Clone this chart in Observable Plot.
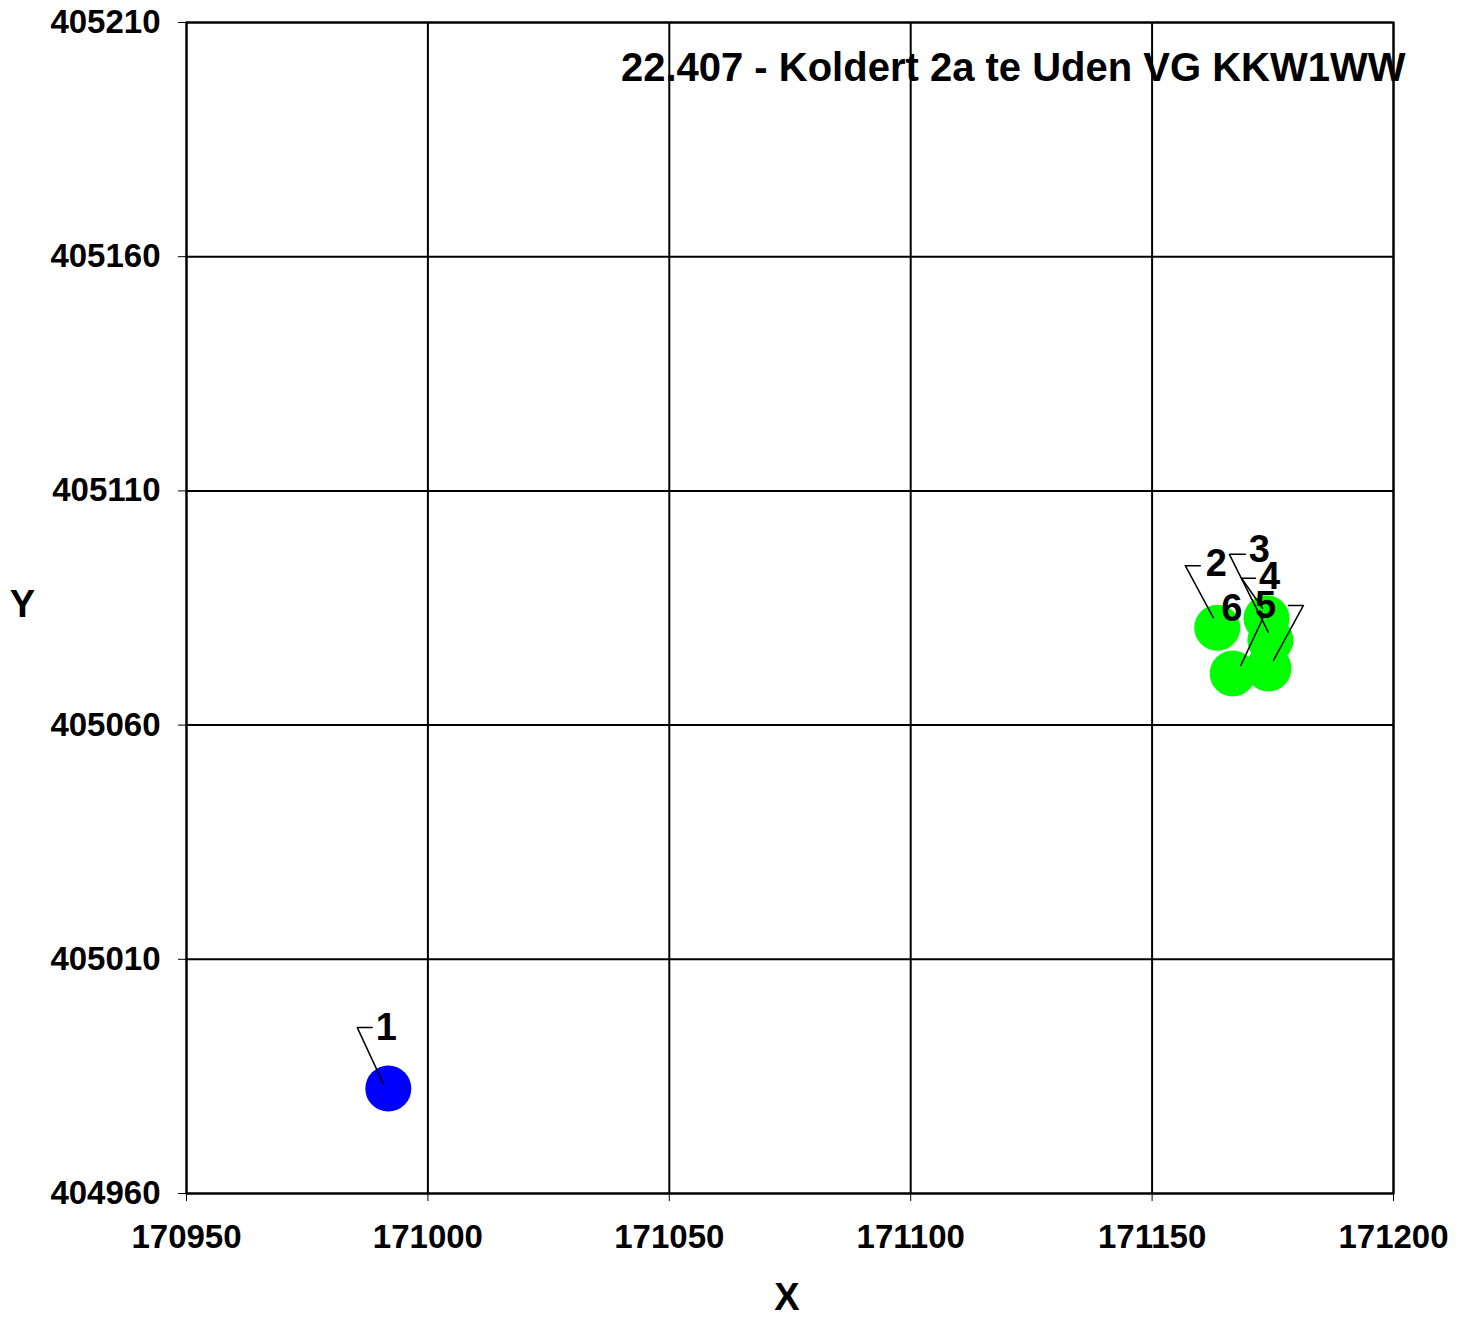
<!DOCTYPE html>
<html><head><meta charset="utf-8">
<script src="https://cdn.jsdelivr.net/npm/d3@7"></script>
<script src="https://cdn.jsdelivr.net/npm/@observablehq/plot@0.6"></script>
<style>body{margin:0;background:#fff}</style>
</head><body><div id="chart"></div>
<script>
const title = "22.407 - Koldert 2a te Uden VG KKW1WW";
const pointIds = ["1", "2", "3", "4", "5", "6"];
const xValues = [170991.8, 171163.5, 171174.5, 171173.7, 171174.1, 171166.7];
const yValues = [404982.4, 405080.8, 405078.1, 405082.8, 405072.1, 405071.0];
const groups = ["A", "B", "B", "B", "B", "B"];
const xTicks = [170950, 171000, 171050, 171100, 171150, 171200];
const yTicks = [404960, 405010, 405060, 405110, 405160, 405210];
const xAxisLabel = "X";
const yAxisLabel = "Y";

// label placement (pixel offsets from the point): text centre, leader start, elbow, end
const labelLayout = {
  "1": {text: [-2, -61], lead: [[-5, -5], [-31, -61], [-16, -61]]},
  "2": {text: [-1, -64], lead: [[-4, -10], [-32, -62], [-17, -62]]},
  "3": {text: [-11, -90], lead: [[-2, -8], [-41, -86], [-25, -86]]},
  "4": {text: [3, -41], lead: [[-4, -10], [-25, -40], [-11, -40]]},
  "5": {text: [-3, -63], lead: [[5, -8], [35, -63], [20, -63]]},
  "6": {text: [-1, -65], lead: [[8, -8], [30, -55], [30, -55]]}
};

const W = 1466, H = 1319, ML = 186, MR = 73, MT = 22, MB = 126;
const xDomain = [170950, 171200], yDomain = [404960, 405210];
const kx = (xDomain[1] - xDomain[0]) / (W - ML - MR);
const ky = (yDomain[1] - yDomain[0]) / (H - MT - MB);

const points = pointIds.map((id, i) => ({id, x: xValues[i], y: yValues[i], g: groups[i]}));
const labels = points.map(p => {
  const o = labelLayout[p.id].text;
  return {id: p.id, x: p.x + o[0] * kx, y: p.y - o[1] * ky};
});
const leaders = points.flatMap(p => labelLayout[p.id].lead.map((o, j) => ({id: p.id, j, x: p.x + o[0] * kx, y: p.y - o[1] * ky})));

const plot = Plot.plot({
  width: W, height: H,
  marginLeft: ML, marginRight: MR, marginTop: MT, marginBottom: MB,
  style: {fontFamily: "'Liberation Sans', Arial, sans-serif", fontWeight: "bold", fontSize: "33px", color: "black", background: "white"},
  x: {domain: xDomain, ticks: xTicks, tickSize: 8, tickPadding: 23, tickFormat: d3.format("d"), label: null},
  y: {domain: yDomain, ticks: yTicks, tickSize: 8, tickPadding: 18, tickFormat: d3.format("d"), label: null},
  color: {domain: ["A", "B"], range: ["#0000ff", "#00ff00"]},
  marks: [
    Plot.gridX(xTicks, {stroke: "black", strokeOpacity: 1, strokeWidth: 2}),
    Plot.gridY(yTicks, {stroke: "black", strokeOpacity: 1, strokeWidth: 2}),
    Plot.frame({stroke: "black", strokeWidth: 2}),
    Plot.dot(points, {x: "x", y: "y", r: 23, fill: "g", stroke: null}),
    Plot.line(leaders, {x: "x", y: "y", z: "id", stroke: "black", strokeWidth: 1.5}),
    Plot.text(labels, {x: "x", y: "y", text: "id", fontSize: 38, fontWeight: "bold", fill: "black"}),
    Plot.text([title], {text: d => d, frameAnchor: "top-right", textAnchor: "end", lineAnchor: "middle", dx: 12, dy: 46, fontSize: 40, fontWeight: "bold"}),
    Plot.text([yAxisLabel], {text: d => d, frameAnchor: "left", textAnchor: "middle", lineAnchor: "middle", dx: -164, dy: -3, fontSize: 38, fontWeight: "bold"}),
    Plot.text([xAxisLabel], {text: d => d, frameAnchor: "bottom", textAnchor: "middle", lineAnchor: "middle", dx: -3, dy: 104, fontSize: 38, fontWeight: "bold"})
  ]
});
document.getElementById("chart").appendChild(plot);
</script>
</body></html>
